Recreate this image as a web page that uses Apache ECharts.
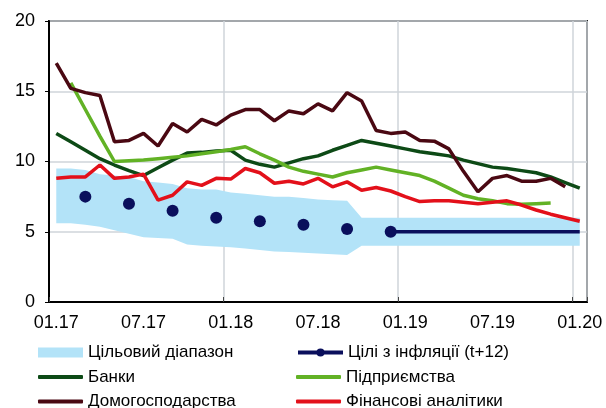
<!DOCTYPE html>
<html>
<head>
    <meta charset="utf-8">
    <title>inflation expectations</title>
    <script src="https://cdn.jsdelivr.net/npm/echarts@6/dist/echarts.min.js"></script>
    <style>
        html, body { margin: 0; padding: 0; background: #fff; }
    </style>
</head>
<body>
    <div id="main" style="width: 606px; height: 408px;"></div>
    <script type="text/javascript">
        // місяці 01.17 ... 01.20
        var months = [
            '01.17','02.17','03.17','04.17','05.17','06.17','07.17','08.17','09.17','10.17','11.17','12.17',
            '01.18','02.18','03.18','04.18','05.18','06.18','07.18','08.18','09.18','10.18','11.18','12.18',
            '01.19','02.19','03.19','04.19','05.19','06.19','07.19','08.19','09.19','10.19','11.19','12.19',
            '01.20'
        ];

        // цільовий діапазон (нижня / верхня межа)
        var bandLow = [5.6, 5.6, 5.5, 5.35, 5.1, 4.85, 4.6, 4.55, 4.5, 4.1, 4.0, 3.95,
            3.9, 3.8, 3.7, 3.6, 3.55, 3.5, 3.45, 3.4, 3.35, 4.0, 4.0, 4.0,
            4.0, 4.0, 4.0, 4.0, 4.0, 4.0, 4.0, 4.0, 4.0, 4.0, 4.0, 4.0, 4.0];
        var bandHigh = [9.5, 9.5, 9.4, 9.1, 9.0, 8.9, 8.6, 8.5, 8.4, 8.1, 8.0, 8.0,
            7.8, 7.7, 7.6, 7.5, 7.5, 7.4, 7.3, 7.25, 7.2, 6.0, 6.0, 6.0,
            6.0, 6.0, 6.0, 6.0, 6.0, 6.0, 6.0, 6.0, 6.0, 6.0, 6.0, 6.0, 6.0];

        var targets = [null, null, 7.5, null, null, 7.0, null, null, 6.5, null, null, 6.0,
            null, null, 5.75, null, null, 5.5, null, null, 5.2, null, null, 5.0,
            5.0, 5.0, 5.0, 5.0, 5.0, 5.0, 5.0, 5.0, 5.0, 5.0, 5.0, 5.0, 5.0];

        var banks = [12.0, 11.4, 10.8, 10.2, 9.75, 9.35, 9.0, 9.55, 10.1, 10.6, 10.65, 10.75,
            10.8, 10.1, 9.8, 9.6, 9.9, 10.2, 10.4, 10.8, 11.15, 11.5, 11.3, 11.1,
            10.9, 10.7, 10.55, 10.4, 10.1, 9.85, 9.6, 9.5, 9.35, 9.2, 8.9, 8.5, 8.1];

        var firms = [null, 15.6, 13.7, 11.8, 10.0, 10.05, 10.1, 10.2, 10.3, 10.4, 10.55, 10.7,
            10.85, 11.05, 10.55, 10.1, 9.6, 9.3, 9.1, 8.9, 9.2, 9.4, 9.6, 9.4,
            9.2, 9.0, 8.6, 8.1, 7.6, 7.35, 7.2, 7.0, 6.95, 7.0, 7.05, null, null];

        var households = [17.0, 15.2, 14.9, 14.7, 11.4, 11.5, 12.0, 11.1, 12.7, 12.1, 13.0, 12.6,
            13.3, 13.7, 13.7, 12.9, 13.6, 13.4, 14.1, 13.6, 14.9, 14.3, 12.2, 12.0,
            12.1, 11.5, 11.45, 10.9, 9.3, 7.85, 8.8, 9.0, 8.6, 8.6, 8.8, 8.2, null];

        var analysts = [8.8, 8.9, 8.9, 9.75, 8.8, 8.9, 9.1, 7.25, 7.6, 8.55, 8.3, 8.8,
            8.75, 9.5, 9.2, 8.45, 8.6, 8.4, 8.8, 8.2, 8.55, 7.95, 8.15, 7.9,
            7.5, 7.15, 7.2, 7.2, 7.1, 7.0, 7.1, 7.2, 6.9, 6.55, 6.25, 6.0, 5.75];

        var myChart = echarts.init(document.getElementById('main'));

        var bandColor = '#b3e3f8';
        var colors = {
            target: '#0a0f5c',
            banks: '#0d4a16',
            firms: '#62b225',
            households: '#4a0812',
            analysts: '#e3101a'
        };
        var bandWidth = bandHigh.map(function (v, i) { return +(v - bandLow[i]).toFixed(2); });
        // маркери лише до 12.18, далі суцільна лінія
        var targetData = targets.map(function (v, i) {
            return i > 23 ? { value: v, symbol: 'none' } : v;
        });

        function lineSeries(name, data, color) {
            return {
                name: name,
                type: 'line',
                data: data,
                symbol: 'none',
                lineStyle: { color: color, width: 3.5 },
                itemStyle: { color: color },
                z: 3
            };
        }

        // одна легенда на кожен елемент, щоб тримати дві колонки
        function legendItem(item, left, top, h) {
            return {
                left: left,
                top: top,
                itemWidth: 45,
                itemHeight: h,
                itemGap: 0,
                padding: 0,
                textStyle: { fontSize: 17, lineHeight: 17, color: '#000' },
                data: [item]
            };
        }

        var option = {
            animation: false,
            textStyle: { fontFamily: 'Liberation Sans, Arial, sans-serif' },
            grid: {
                left: 49,
                right: 19,
                top: 21,
                bottom: 106,
                show: true,
                borderColor: '#222',
                borderWidth: 2
            },
            legend: [
                legendItem({ name: 'Цільовий діапазон', icon: 'rect', itemStyle: { color: bandColor } }, 38, 344, 10),
                legendItem({ name: 'Банки', icon: 'roundRect', itemStyle: { color: colors.banks } }, 38, 368.5, 4),
                legendItem({ name: 'Домогосподарства', icon: 'roundRect', itemStyle: { color: colors.households } }, 38, 393, 4),
                legendItem({ name: 'Цілі з інфляції (t+12)', lineStyle: { width: 4 } }, 296, 344, 10),
                legendItem({ name: 'Підприємства', icon: 'roundRect', itemStyle: { color: colors.firms } }, 296, 368.5, 4),
                legendItem({ name: 'Фінансові аналітики', icon: 'roundRect', itemStyle: { color: colors.analysts } }, 296, 393, 4)
            ],
            xAxis: {
                type: 'category',
                data: months,
                boundaryGap: true,
                axisLine: { lineStyle: { color: '#000', width: 2 } },
                axisTick: {
                    show: true,
                    inside: true,
                    length: 5,
                    interval: function (i) { return i % 12 === 0; },
                    lineStyle: { color: '#444' }
                },
                axisLabel: {
                    interval: 5,
                    color: '#000',
                    fontSize: 18,
                    margin: 12
                },
                splitLine: {
                    show: true,
                    interval: function (i) { return i % 12 === 0; },
                    lineStyle: { color: '#cfd4da', width: 1.5 }
                }
            },
            yAxis: {
                type: 'value',
                min: 0,
                max: 20,
                interval: 5,
                axisLine: { show: true, lineStyle: { color: '#000', width: 2 } },
                axisTick: { show: true, length: 4, lineStyle: { color: '#000' } },
                axisLabel: { color: '#000', fontSize: 18, margin: 14 },
                splitLine: { lineStyle: { color: '#cfd4da', width: 1.5 } }
            },
            series: [
                {
                    name: 'band-low',
                    type: 'line',
                    stack: 'band',
                    data: bandLow,
                    symbol: 'none',
                    lineStyle: { opacity: 0 },
                    z: 1
                },
                {
                    name: 'Цільовий діапазон',
                    type: 'line',
                    stack: 'band',
                    data: bandWidth,
                    symbol: 'none',
                    lineStyle: { opacity: 0 },
                    itemStyle: { color: bandColor },
                    areaStyle: { color: bandColor, opacity: 1 },
                    z: 1
                },
                {
                    name: 'Цілі з інфляції (t+12)',
                    type: 'line',
                    data: targetData,
                    symbol: 'circle',
                    symbolSize: 12,
                    showSymbol: true,
                    showAllSymbol: true,
                    connectNulls: false,
                    lineStyle: { color: colors.target, width: 3.5 },
                    itemStyle: { color: colors.target },
                    z: 4
                },
                lineSeries('Банки', banks, colors.banks),
                lineSeries('Підприємства', firms, colors.firms),
                lineSeries('Домогосподарства', households, colors.households),
                lineSeries('Фінансові аналітики', analysts, colors.analysts)
            ]
        };

        myChart.setOption(option);
    </script>
</body>
</html>
